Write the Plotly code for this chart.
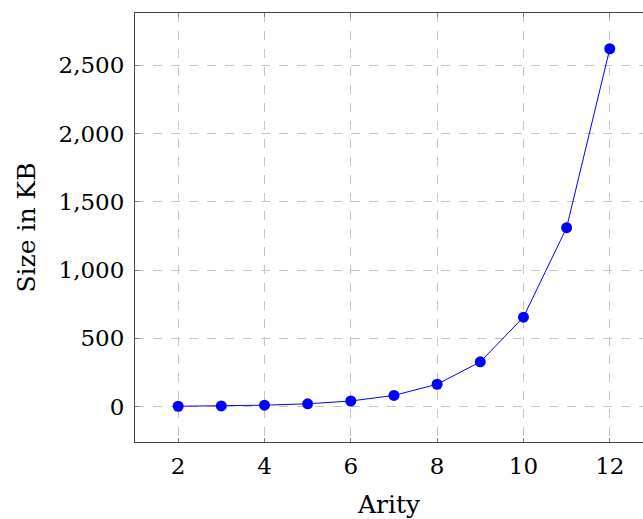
import plotly.graph_objects as go

arity = [2, 3, 4, 5, 6, 7, 8, 9, 10, 11, 12]
size_kb = [2.56, 5.12, 10.24, 20.48, 40.96, 81.92, 163.84, 327.68, 655.36, 1310.72, 2621.44]

x_ticks = [2, 4, 6, 8, 10, 12]
y_ticks = [0, 500, 1000, 1500, 2000, 2500]
y_tick_text = ["0", "500", "1,000", "1,500", "2,000", "2,500"]

font_family = "DejaVu Serif"
fs_tick = 23
fs_title = 25

fig = go.Figure()
fig.add_trace(go.Scatter(
    x=arity, y=size_kb, mode="lines+markers",
    line=dict(color="#0000ff", width=1),
    marker=dict(color="#0000ff", size=11),
    showlegend=False,
))

grid = dict(showgrid=True, gridcolor="#c4c4c4", gridwidth=1, griddash="dash", zeroline=False)

fig.update_layout(
    width=643, height=519,
    margin=dict(l=134.5, r=0, t=12.5, b=76.7),
    paper_bgcolor="white", plot_bgcolor="white",
    font=dict(family=font_family, size=fs_tick, color="black"),
    xaxis=dict(
        range=[1, 12.77], tickvals=x_ticks, ticks="inside", ticklen=4, tickcolor="#808080",
        showline=True, linecolor="#404040", linewidth=1, mirror="ticks",
        ticklabelstandoff=3,
        title=dict(text="Arity", standoff=17, font=dict(size=fs_title)),
        tickfont=dict(size=fs_tick), **grid,
    ),
    yaxis=dict(
        range=[-259.3, 2883.3], tickvals=y_ticks, ticktext=y_tick_text,
        ticks="inside", ticklen=4, tickcolor="#808080",
        showline=True, linecolor="#404040", linewidth=1, mirror=False,
        ticklabelstandoff=5,
        title=dict(text="Size in KB", standoff=15, font=dict(size=fs_title)),
        tickfont=dict(size=fs_tick), **grid,
    ),
)

fig.write_html("out.html")
